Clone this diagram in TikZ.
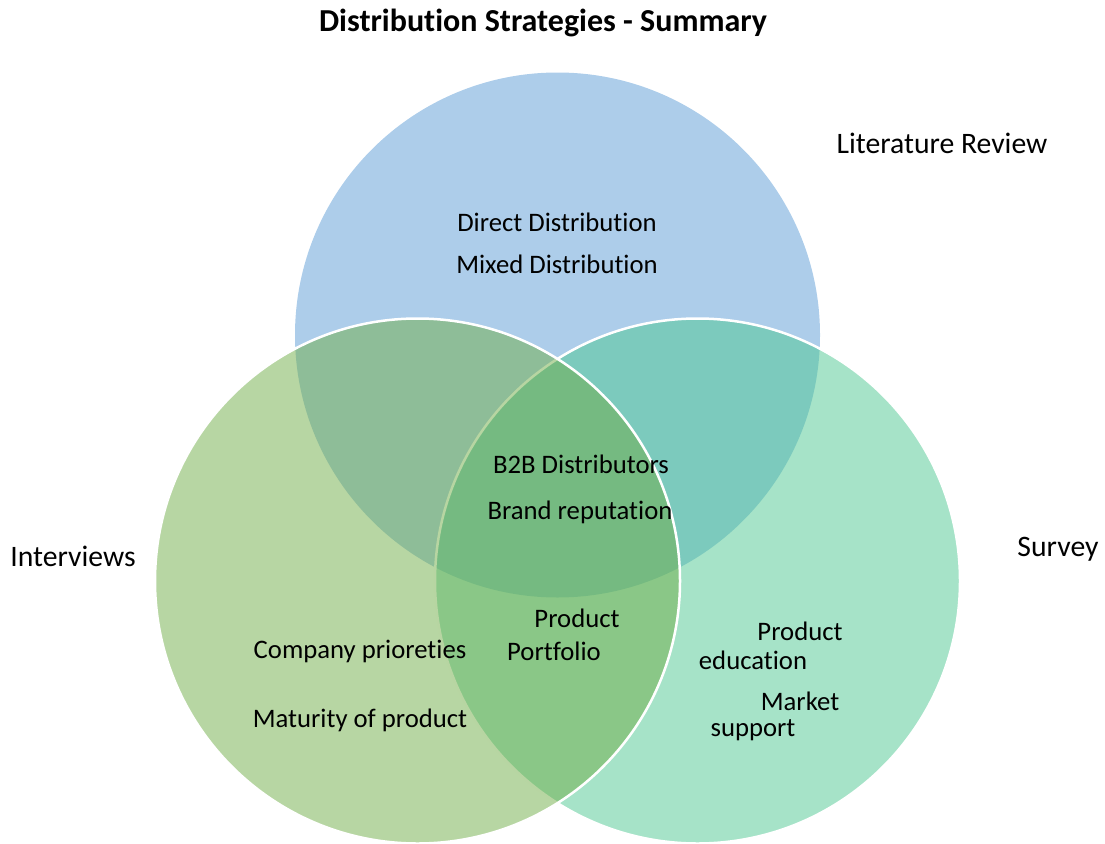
\documentclass[tikz,border=0pt]{standalone}
\usepackage{fontspec}
\setmainfont{Carlito}[Ligatures={NoCommon}]
\definecolor{vblue}{RGB}{91,155,213}
\definecolor{vgreen}{RGB}{112,173,71}
\definecolor{vteal}{RGB}{77,199,145}
\begin{document}
\begin{tikzpicture}[x=1pt,y=-1pt,
  lbl/.style={font=\fontsize{26.7}{30}\selectfont, inner sep=0pt, text=black},
  outer/.style={font=\fontsize{29.7}{34}\selectfont, inner sep=0pt, text=black},
  vcircle/.style={circle, minimum size=525pt, inner sep=0pt, fill opacity=0.5}]
\useasboundingbox (0,0) rectangle (1105,843);
\node[vcircle, fill=vblue] (lit) at (557.5,335) {};
\node[vcircle, fill=vteal, draw=white, line width=2.5pt] (sur) at (697.5,581) {};
\node[vcircle, fill=vgreen, draw=white, line width=2.5pt] (int) at (417.5,581) {};
\node[font=\bfseries\fontsize{32}{36}\selectfont, inner sep=0pt] (title) at (543,23) {Distribution Strategies - Summary};
\node[outer] (litl) at (942,143) {Literature Review};
\node[outer] (intl) at (73,556) {Interviews};
\node[outer] (surl) at (1058,549) {Survey};
\node[lbl] (dd) at (557,222) {Direct Distribution};
\node[lbl] (md) at (557,264) {Mixed Distribution};
\node[lbl] (b2b) at (581,464) {B2B Distributors};
\node[lbl] (br) at (580,512) {Brand reputation};
\node[lbl] (pp1) at (577,618) {Product};
\node[lbl] (pp2) at (554,651) {Portfolio};
\node[lbl] (cp) at (360,651) {Company prioreties};
\node[lbl] (mp) at (360,720) {Maturity of product};
\node[lbl] (pe1) at (800,631) {Product};
\node[lbl] (pe2) at (753,660) {education};
\node[lbl] (ms1) at (800,701) {Market};
\node[lbl] (ms2) at (753,730) {support};
\end{tikzpicture}
\end{document}
